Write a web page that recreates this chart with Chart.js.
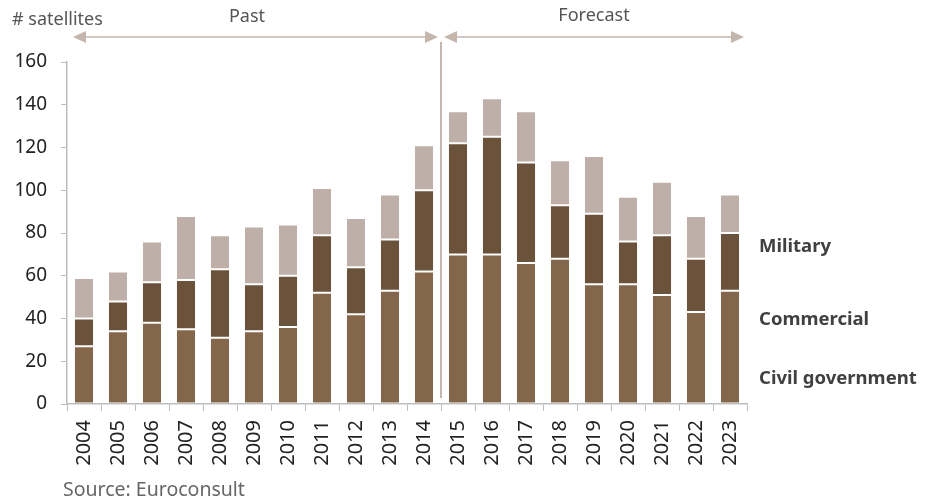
<!DOCTYPE html>
<html>
<head>
<meta charset="utf-8">
<script src="https://cdn.jsdelivr.net/npm/chart.js@4.4.0/dist/chart.umd.min.js"></script>
<style>
  html, body { margin: 0; padding: 0; background: #fff; }
  #wrap { width: 926px; height: 504px; position: relative; }
</style>
</head>
<body>
<div id="wrap"><canvas id="satChart"></canvas></div>
<script>
// satellites launched per year, split by operator type
const years = ['2004', '2005', '2006', '2007', '2008', '2009', '2010', '2011', '2012', '2013',
               '2014', '2015', '2016', '2017', '2018', '2019', '2020', '2021', '2022', '2023'];
const civilGov   = [27, 34, 38, 35, 31, 34, 36, 52, 42, 53, 62, 70, 70, 66, 68, 56, 56, 51, 43, 53];
const commercial = [13, 14, 19, 23, 32, 22, 24, 27, 22, 24, 38, 52, 55, 47, 25, 33, 20, 28, 25, 27];
const military   = [19, 14, 19, 30, 16, 27, 24, 22, 23, 21, 21, 15, 18, 24, 21, 27, 21, 25, 20, 18];
const yTicks = [0, 20, 40, 60, 80, 100, 120, 140, 160];
const firstForecast = '2015';

const seriesNames = ['Civil government', 'Commercial', 'Military'];
const seriesColors = ['#84674A', '#6B523A', '#BEB0A8'];

const FONT = '"Noto Sans", "Open Sans", sans-serif';
const AXIS = '#BDBDBD';
const ARROW = '#C4B6AD';

function arrow(ctx, x1, x2, y) {
    ctx.save();
    ctx.strokeStyle = ARROW;
    ctx.fillStyle = ARROW;
    ctx.lineWidth = 1.5;
    ctx.beginPath();
    ctx.moveTo(x1 + 10, y);
    ctx.lineTo(x2 - 10, y);
    ctx.stroke();
    // heads
    ctx.beginPath();
    ctx.moveTo(x1, y);
    ctx.lineTo(x1 + 13, y - 6);
    ctx.lineTo(x1 + 13, y + 6);
    ctx.closePath();
    ctx.fill();
    ctx.beginPath();
    ctx.moveTo(x2, y);
    ctx.lineTo(x2 - 13, y - 6);
    ctx.lineTo(x2 - 13, y + 6);
    ctx.closePath();
    ctx.fill();
    ctx.restore();
}

// period arrows, divider, series names and source
const annotations = {
    id: 'annotations',
    afterDraw(chart) {
        const ctx = chart.ctx;
        const x = chart.scales.x;
        const y = chart.scales.y;
        const area = chart.chartArea;
        const idx = years.indexOf(firstForecast);
        const split = (x.getPixelForValue(idx - 1) + x.getPixelForValue(idx)) / 2;

        ctx.save();
        // divider between past and forecast
        ctx.strokeStyle = ARROW;
        ctx.lineWidth = 2;
        ctx.beginPath();
        ctx.moveTo(split, 42);
        ctx.lineTo(split, area.bottom - 6);
        ctx.stroke();

        const arrowY = 37;
        arrow(ctx, area.left + 6, split - 3, arrowY);
        arrow(ctx, split + 3, area.right - 3, arrowY);

        ctx.fillStyle = '#555';
        ctx.font = '18px ' + FONT;
        ctx.textAlign = 'center';
        ctx.textBaseline = 'middle';
        ctx.fillText('Past', (area.left + split) / 2 - 7, 17);
        ctx.fillText('Forecast', (split + area.right) / 2, 16);

        ctx.textAlign = 'left';
        ctx.fillText('# satellites', 12, 20);

        ctx.fillStyle = '#666';
        ctx.font = '19.5px ' + FONT;
        ctx.fillText('Source: Euroconsult', 63, 490);

        // series names to the right of the bars
        ctx.fillStyle = '#404040';
        ctx.font = 'bold 18.5px ' + FONT;
        const lx = area.right + 12;
        ctx.fillText(seriesNames[2], lx, y.getPixelForValue(73.4));
        ctx.fillText(seriesNames[1], lx, y.getPixelForValue(39.3));
        ctx.fillText(seriesNames[0], lx, y.getPixelForValue(11.7));
        ctx.restore();
    }
};

const datasets = [civilGov, commercial, military].map((vals, i) => ({
    label: seriesNames[i],
    data: vals,
    backgroundColor: seriesColors[i],
    borderColor: 'rgba(255, 255, 255, 0.3)',
    borderWidth: 1,
    borderSkipped: false,
    categoryPercentage: 1,
    barPercentage: 0.59
}));

new Chart(document.getElementById('satChart'), {
    type: 'bar',
    data: { labels: years, datasets: datasets },
    options: {
        responsive: true,
        maintainAspectRatio: false,
        animation: false,
        layout: { padding: { left: 0, right: 179, top: 62, bottom: 0 } },
        plugins: {
            legend: { display: false },
            tooltip: { enabled: false }
        },
        scales: {
            x: {
                stacked: true,
                afterFit(scale) { scale.height = 100; },
                border: { display: true, color: AXIS, width: 1.5 },
                grid: { display: true, drawOnChartArea: false, drawTicks: true, tickLength: 7, color: AXIS, offset: true },
                ticks: {
                    color: '#222',
                    font: { family: FONT, size: 20 },
                    minRotation: 90,
                    maxRotation: 90,
                    autoSkip: false,
                    padding: 9
                }
            },
            y: {
                stacked: true,
                min: 0,
                max: 160,
                afterFit(scale) { scale.width = 67; },
                afterBuildTicks(scale) { scale.ticks = yTicks.map(v => ({ value: v })); },
                border: { display: true, color: AXIS, width: 1.5 },
                grid: { display: true, drawOnChartArea: false, drawTicks: true, tickLength: 6, color: AXIS },
                ticks: {
                    color: '#222',
                    font: { family: FONT, size: 19 },
                    padding: 14
                }
            }
        }
    },
    plugins: [annotations]
});
</script>
</body>
</html>
